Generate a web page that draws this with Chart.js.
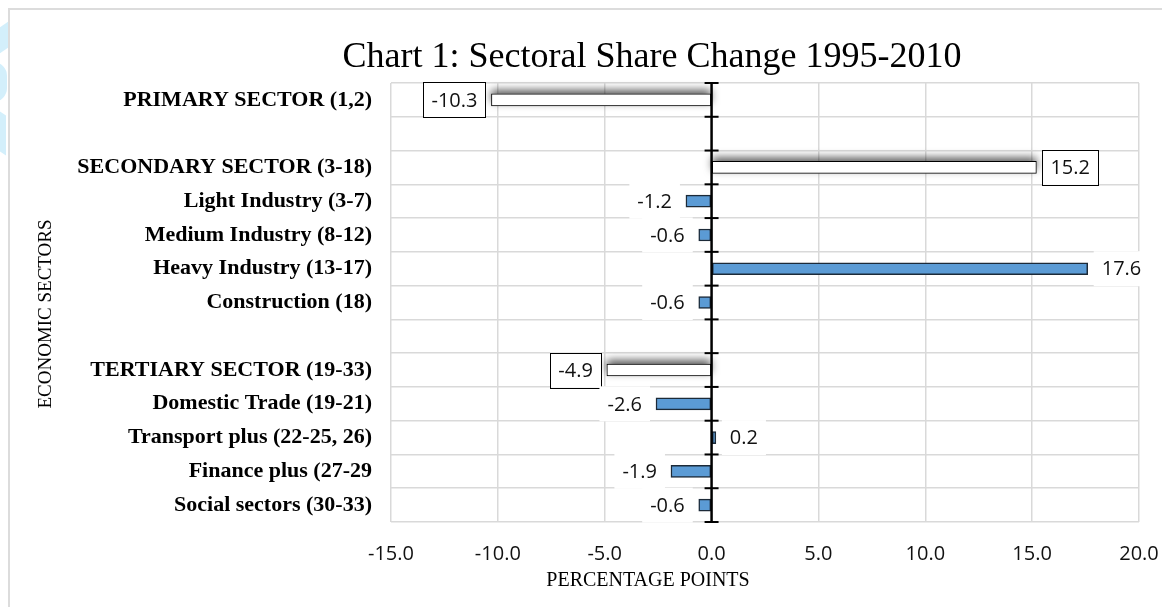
<!DOCTYPE html>
<html>
<head>
<meta charset="utf-8">
<script src="https://cdn.jsdelivr.net/npm/chart.js@4.4.0/dist/chart.umd.min.js"></script>
<style>
  html, body { margin: 0; padding: 0; background: #fff; }
  #wrap { position: relative; width: 1162px; height: 607px; overflow: hidden; }
  #frame { position: absolute; left: 8px; top: 8px; right: -4px; bottom: -4px;
           border-left: 2px solid #dcdcdc; border-top: 2px solid #dcdcdc; }
  .mark { position: absolute; background: #d3effb; }
  #chart { position: absolute; left: 0; top: 0; }
</style>
</head>
<body>
<div id="wrap">
  <div class="mark" style="left:-10px; top:28px; width:18px; height:26px; transform:skewY(-35deg);"></div>
  <div class="mark" style="left:-10px; top:62px; width:17px; height:40px; border-radius:0 14px 14px 0;"></div>
  <div class="mark" style="left:-10px; top:110px; width:16px; height:40px; transform:skewY(35deg);"></div>
  <div id="frame"></div>
  <canvas id="chart" width="1162" height="607"></canvas>
</div>
<script>
const categories = [
  'PRIMARY SECTOR (1,2)',
  '',
  'SECONDARY SECTOR (3-18)',
  'Light Industry (3-7)',
  'Medium Industry (8-12)',
  'Heavy Industry (13-17)',
  'Construction (18)',
  '',
  'TERTIARY SECTOR (19-33)',
  'Domestic Trade (19-21)',
  'Transport plus (22-25, 26)',
  'Finance plus (27-29',
  'Social sectors (30-33)'
];

// main sectors (white bars) and sub-sectors (blue bars)
const sectorTotals = [-10.3, null, 15.2, null, null, null, null, null, -4.9, null, null, null, null];
const subSectors = [null, null, null, -1.2, -0.6, 17.6, -0.6, null, null, -2.6, 0.2, -1.9, -0.6];

const xMin = -15;
const xMax = 20;
const xStep = 5;

const titleText = 'Chart 1: Sectoral Share Change 1995-2010';
const xTitle = 'PERCENTAGE POINTS';
const yTitle = 'ECONOMIC SECTORS';

const serif = '"Liberation Serif", "Times New Roman", serif';
const sans = '"Open Sans", "Liberation Sans", sans-serif';

// soft shadow behind the white sector bars (drawn before the bars themselves)
const shadowPlugin = {
  id: 'barShadow',
  beforeDatasetsDraw(chart) {
    const ctx = chart.ctx;
    const meta = chart.getDatasetMeta(0);
    ctx.save();
    ctx.shadowColor = 'rgba(0,0,0,0.65)';
    ctx.shadowBlur = 9;
    ctx.shadowOffsetY = -4;
    ctx.fillStyle = '#fff';
    meta.data.forEach((bar, i) => {
      if (sectorTotals[i] === null) return;
      const left = Math.min(bar.x, bar.base);
      const w = Math.abs(bar.x - bar.base);
      ctx.fillRect(left, bar.y - bar.height / 2, w, bar.height);
    });
    ctx.restore();
  }
};

// thick zero axis with cross ticks, then data labels and titles
const extrasPlugin = {
  id: 'extras',
  afterDatasetsDraw(chart) {
    const ctx = chart.ctx;
    const x = chart.scales.x;
    const area = chart.chartArea;
    const x0 = x.getPixelForValue(0);

    ctx.save();
    ctx.strokeStyle = '#000';
    ctx.lineWidth = 2.5;
    ctx.beginPath();
    ctx.moveTo(x0, area.top);
    ctx.lineTo(x0, area.bottom);
    ctx.stroke();
    ctx.lineWidth = 2;
    const n = categories.length;
    const step = (area.bottom - area.top) / n;
    for (let i = 0; i <= n; i++) {
      const yy = area.top + i * step;
      ctx.beginPath();
      ctx.moveTo(x0 - 7, yy);
      ctx.lineTo(x0 + 7, yy);
      ctx.stroke();
    }

    // data labels
    ctx.font = '20px ' + sans;
    ctx.textBaseline = 'middle';
    ctx.textAlign = 'center';
    chart.data.datasets.forEach((ds, di) => {
      const meta = chart.getDatasetMeta(di);
      meta.data.forEach((bar, i) => {
        const v = ds.data[i];
        if (v === null || v === undefined) return;
        const txt = v.toFixed(1);
        const w = ctx.measureText(txt).width + 16;
        const h = 35;
        const left = v < 0 ? bar.x - 6 - w : bar.x + 6;
        const top = bar.y - h / 2;
        ctx.fillStyle = '#fff';
        ctx.fillRect(left, top, w, h);
        if (di === 0) {
          ctx.strokeStyle = '#000';
          ctx.lineWidth = 1;
          ctx.strokeRect(Math.round(left) + 0.5, Math.round(top) + 0.5, Math.round(w), Math.round(h));
        }
        ctx.fillStyle = '#111';
        ctx.fillText(txt, left + w / 2, bar.y + 1);
      });
    });

    // titles
    ctx.fillStyle = '#000';
    ctx.font = '36px ' + serif;
    ctx.textAlign = 'center';
    ctx.textBaseline = 'alphabetic';
    ctx.fillText(titleText, 652, 67);

    ctx.font = '20px ' + serif;
    ctx.textBaseline = 'middle';
    ctx.fillText(xTitle, 648, 581);

    ctx.save();
    ctx.translate(46, 314);
    ctx.rotate(-Math.PI / 2);
    ctx.font = '19px ' + serif;
    ctx.fillText(yTitle, 0, 0);
    ctx.restore();
    ctx.restore();
  }
};

new Chart(document.getElementById('chart').getContext('2d'), {
  type: 'bar',
  data: {
    labels: categories,
    datasets: [
      {
        label: 'Sectors',
        data: sectorTotals,
        backgroundColor: '#ffffff',
        borderColor: '#000000',
        borderWidth: 1,
        borderSkipped: false,
        barThickness: 12,
        grouped: false
      },
      {
        label: 'Sub-sectors',
        data: subSectors,
        backgroundColor: '#5b9bd5',
        borderColor: '#1c2a38',
        borderWidth: 1.5,
        borderSkipped: false,
        barThickness: 12,
        grouped: false
      }
    ]
  },
  options: {
    indexAxis: 'y',
    responsive: false,
    animation: false,
    devicePixelRatio: 1,
    layout: { padding: { top: 83, right: 0, left: 0, bottom: 0 } },
    plugins: {
      legend: { display: false },
      tooltip: { enabled: false }
    },
    scales: {
      x: {
        min: xMin,
        max: xMax,
        afterFit(scale) {
          scale.height = 85;
          scale.paddingRight = 23;
        },
        ticks: {
          stepSize: xStep,
          padding: 20,
          color: '#111',
          font: { family: sans, size: 20 },
          callback: v => v.toFixed(1)
        },
        grid: {
          drawTicks: false,
          color: c => (c.tick && c.tick.value === 0) ? 'rgba(0,0,0,0)' : '#d9d9d9',
          lineWidth: 1.5
        },
        border: { display: false }
      },
      y: {
        afterFit(scale) { scale.width = 391; },
        ticks: {
          padding: 19,
          color: '#000',
          font: { family: serif, size: 22, weight: 'bold' }
        },
        grid: {
          offset: true,
          drawTicks: false,
          color: '#d9d9d9',
          lineWidth: 1.5
        },
        border: { display: false }
      }
    }
  },
  plugins: [shadowPlugin, extrasPlugin]
});
</script>
</body>
</html>
